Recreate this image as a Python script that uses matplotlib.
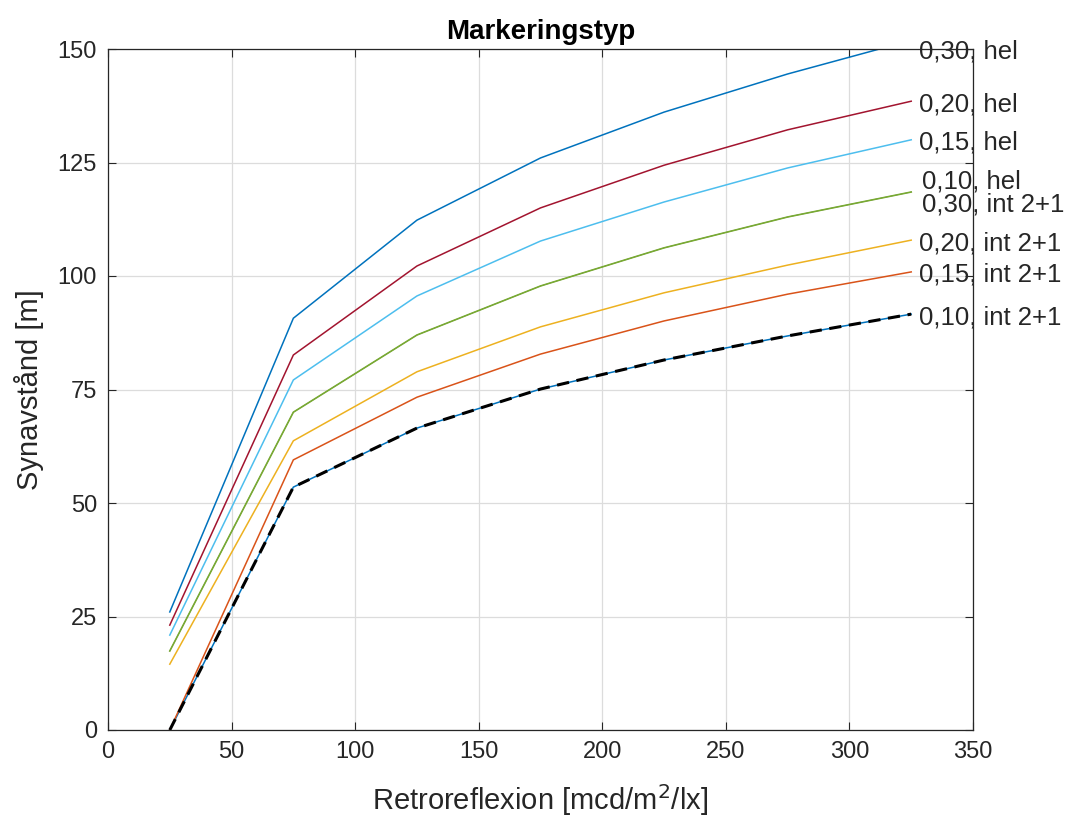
import matplotlib
matplotlib.use("Agg")
import matplotlib.pyplot as plt
import matplotlib.transforms as mtransforms

plt.rcParams['font.family'] = ['Liberation Sans', 'DejaVu Sans']

retro = [25, 75, 125, 175, 225, 275, 325]

labels = ["0,10, int 2+1", "0,15, int 2+1", "0,20, int 2+1", "0,10, hel",
          "0,30, int 2+1", "0,15, hel", "0,20, hel", "0,30, hel"]
s_010_int = [0.0, 53.5, 66.5, 75.1, 81.5, 86.8, 91.6]
s_015_int = [0.0, 59.5, 73.3, 82.8, 90.1, 96.0, 100.9]
s_020_int = [14.5, 63.7, 78.9, 88.8, 96.3, 102.4, 107.9]
s_010_hel = [17.4, 70.0, 87.0, 97.8, 106.2, 113.0, 118.5]
s_030_int = [17.4, 70.0, 87.0, 97.8, 106.2, 113.0, 118.5]
s_015_hel = [20.9, 77.1, 95.6, 107.7, 116.3, 123.8, 130.0]
s_020_hel = [23.1, 82.6, 102.2, 115.0, 124.4, 132.2, 138.5]
s_030_hel = [26.0, 90.7, 112.3, 126.0, 136.1, 144.5, 151.9]
series = [s_010_int, s_015_int, s_020_int, s_010_hel, s_030_int, s_015_hel, s_020_hel, s_030_hel]
colors = ["#0072BD", "#D95319", "#EDB120", "#7E2F8E", "#77AC30", "#4DBEEE", "#A2142F", "#0072BD"]
widths = [1.1, 1.1, 1.1, 0.6, 1.2, 1.1, 1.1, 1.1]
# vertical label nudges in pixels, positive = downward
nudges = [3, 3, 3, -11, 12, 3, 3, 3]

xticks = [0, 50, 100, 150, 200, 250, 300, 350]
yticks = [0, 25, 50, 75, 100, 125, 150]

fig = plt.figure(figsize=(10.69, 8.25), dpi=100)
ax = fig.add_axes([108/1069, 95/825, 865/1069, 681/825])

for ys, c, w in zip(series, colors, widths):
    ax.plot(retro, ys, color=c, lw=w, solid_joinstyle='miter')
ax.plot(retro, s_010_int, color='black', lw=2.2, ls=(0, (4, 2.5)))

ax.set_xlim(0, 350)
ax.set_ylim(0, 150)
ax.set_xticks(xticks)
ax.set_yticks(yticks)
ax.grid(True, color='#dcdcdc', lw=0.9)
ax.set_axisbelow(True)
ax.tick_params(direction='in', length=6, width=0.8, colors='#262626',
               labelsize=17, top=True, right=True, pad=8)
for sp in ax.spines.values():
    sp.set_color('#262626')
    sp.set_linewidth(0.9)

for lab, ys, dy in zip(labels, series, nudges):
    yv = min(ys[-1], 150)
    off = mtransforms.ScaledTranslation(0, -dy / 100, fig.dpi_scale_trans)
    xo = 329.5 if lab in ("0,10, hel", "0,30, int 2+1") else 328
    ax.text(xo, yv, lab, transform=ax.transData + off, fontsize=18.5,
            color='#262626', va='center', ha='left', clip_on=False)

ax.set_title("Markeringstyp", fontsize=20, fontweight='bold', color='black', pad=7)
ax.set_xlabel("Retroreflexion [mcd/m$^2$/lx]", fontsize=21, color='#262626', labelpad=14)
ax.set_ylabel("Synavstånd [m]", fontsize=21, color='#262626', labelpad=10)

fig.savefig("out.png", dpi=100)
